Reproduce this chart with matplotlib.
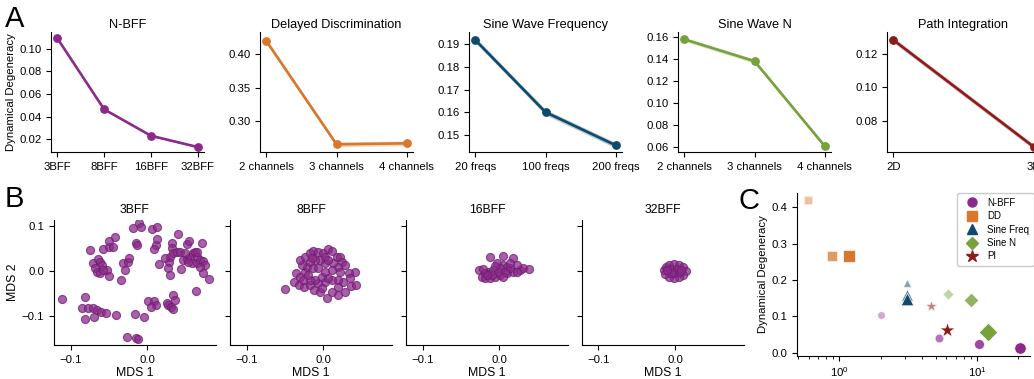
import matplotlib
matplotlib.use("Agg")
import matplotlib.pyplot as plt
from matplotlib.lines import Line2D
import numpy as np

plt.rcParams["font.family"] = ["Liberation Sans", "DejaVu Sans"]
plt.rcParams["axes.linewidth"] = 0.8
plt.rcParams["xtick.major.width"] = 0.8
plt.rcParams["ytick.major.width"] = 0.8
plt.rcParams["xtick.major.size"] = 3.5
plt.rcParams["ytick.major.size"] = 3.5
plt.rcParams["xtick.labelsize"] = 8.2
plt.rcParams["ytick.labelsize"] = 8.2

# colours per task
C_NBFF = "#8c2a8c"
C_DD = "#d8782a"
C_SWF = "#0e4a6e"
C_SWN = "#77a23b"
C_PI = "#8e1b1b"

# ---- panel A data ----
nbff_labels = ["3BFF", "8BFF", "16BFF", "32BFF"]
nbff_dd = [0.1095, 0.0464, 0.0229, 0.0129]
nbff_err = [0.0008, 0.0008, 0.0008, 0.0008]

dd_labels = ["2 channels", "3 channels", "4 channels"]
dd_dd = [0.4194, 0.2652, 0.2667]
dd_err = [0.0035, 0.0035, 0.0035]

swf_labels = ["20 freqs", "100 freqs", "200 freqs"]
swf_dd = [0.1919, 0.1601, 0.1455]
swf_err = [0.0012, 0.0012, 0.0012]

swn_labels = ["2 channels", "3 channels", "4 channels"]
swn_dd = [0.1582, 0.1383, 0.0609]
swn_err = [0.0018, 0.0018, 0.0018]

pi_labels = ["2D", "3D"]
pi_dd = [0.1283, 0.0643]
pi_err = [0.0015, 0.0015]

# ---- panel B data (MDS coordinates) ----
mds_3bff_x = [-0.1117, -0.0813, -0.0857, -0.0770, -0.0704, -0.0652, -0.0609, -0.0539, -0.0409, -0.0813,
              -0.0696, -0.0748, -0.0574, -0.0500, -0.0443, -0.0496, -0.0422, -0.0704, -0.0639, -0.0617,
              -0.0596, -0.0683, -0.0661, -0.0617, -0.0530, -0.0496, -0.0574, -0.0343, -0.0313, -0.0248,
              -0.0235, -0.0291, -0.0183, -0.0109, -0.0083, 0.0065, 0.0130, -0.0148, -0.0139, 0.0113,
              0.0091, 0.0130, 0.0157, 0.0317, 0.0317, 0.0296, 0.0287, 0.0274, 0.0296, 0.0230,
              0.0339, 0.0383, 0.0404, 0.0426, 0.0435, 0.0513, 0.0548, 0.0470, 0.0513, 0.0557,
              0.0578, 0.0600, 0.0622, 0.0643, 0.0652, 0.0643, 0.0687, 0.0709, 0.0730, 0.0752,
              0.0687, 0.0730, 0.0809, 0.0635, 0.0491, 0.0535, -0.0161, -0.0039, 0.0013, 0.0087,
              0.0109, 0.0048, 0.0252, 0.0274, 0.0304, 0.0339, 0.0361, 0.0339, -0.0270, -0.0148,
              -0.0117]
mds_3bff_y = [-0.0627, -0.0568, -0.0812, -0.0812, -0.0812, -0.0863, -0.0915, -0.0937, -0.0974, -0.1055,
              -0.1011, 0.0465, 0.0487, 0.0539, 0.0539, 0.0664, 0.0760, 0.0170, 0.0258, 0.0207,
              0.0133, 0.0059, -0.0015, -0.0052, 0.0022, -0.0111, 0.0022, -0.0199, 0.0170, 0.0207,
              0.0295, 0.0022, 0.0959, 0.1055, 0.0982, 0.0930, 0.0982, 0.0627, 0.0576, 0.0576,
              0.0480, 0.0701, 0.0148, 0.0613, 0.0502, 0.0317, 0.0207, 0.0059, -0.0089, 0.0295,
              0.0391, 0.0428, 0.0812, 0.0428, 0.0037, 0.0590, 0.0664, 0.0244, 0.0258, 0.0317,
              0.0170, 0.0391, 0.0428, 0.0317, 0.0170, 0.0428, 0.0244, 0.0613, 0.0229, 0.0133,
              0.0081, -0.0052, -0.0177, -0.0443, 0.0406, 0.0207, -0.0959, -0.1011, -0.0657, -0.0657,
              -0.0753, -0.0790, -0.0701, -0.0753, -0.0790, -0.0531, -0.0642, -0.0841, -0.1454, -0.1491,
              -0.1506]

mds_8bff_x = [-0.0500, -0.0378, -0.0317, -0.0248, -0.0174, -0.0117, -0.0043, 0.0043, 0.0109, 0.0187,
              0.0283, 0.0361, 0.0426, 0.0413, 0.0335, 0.0348, 0.0261, 0.0196, 0.0109, 0.0022,
              -0.0065, -0.0109, -0.0174, -0.0022, 0.0065, -0.0361, -0.0304, -0.0239, -0.0217, -0.0283,
              -0.0304, -0.0239, -0.0174, -0.0130, -0.0065, 0.0000, 0.0065, 0.0117, 0.0174, 0.0217,
              0.0239, 0.0283, 0.0196, 0.0130, 0.0022, -0.0043, -0.0109, -0.0174, -0.0130, -0.0065,
              0.0022, 0.0109, 0.0217, -0.0261, -0.0196, 0.0022, 0.0065, -0.0152, 0.0187, -0.0022]
mds_8bff_y = [-0.0399, -0.0236, -0.0310, -0.0362, -0.0310, -0.0421, -0.0472, -0.0605, -0.0458, -0.0531,
              -0.0458, -0.0332, -0.0310, -0.0015, -0.0037, -0.0162, -0.0236, -0.0199, -0.0199, -0.0236,
              -0.0273, -0.0199, -0.0199, -0.0125, -0.0162, -0.0037, -0.0125, -0.0015, 0.0096, 0.0133,
              0.0244, 0.0317, 0.0391, 0.0450, 0.0428, 0.0391, 0.0480, 0.0450, 0.0317, 0.0303,
              0.0207, 0.0133, 0.0096, 0.0170, 0.0170, 0.0244, 0.0244, 0.0207, 0.0059, 0.0059,
              -0.0015, 0.0022, -0.0015, -0.0199, -0.0089, 0.0317, 0.0244, 0.0280, -0.0347, -0.0384]

mds_16bff_x = [-0.0265, -0.0230, -0.0187, -0.0122, -0.0057, 0.0009, 0.0096, 0.0183, 0.0270, 0.0313,
               0.0387, 0.0235, 0.0183, 0.0043, -0.0122, -0.0035, 0.0052, 0.0096, -0.0143, -0.0078,
               0.0009, 0.0139, -0.0187, -0.0013, 0.0074, 0.0226, -0.0100, 0.0052, 0.0139, -0.0057,
               -0.0209, -0.0157]
mds_16bff_y = [0.0022, -0.0125, -0.0162, -0.0162, -0.0125, -0.0089, -0.0052, -0.0015, 0.0022, 0.0059,
               0.0044, 0.0133, 0.0280, 0.0332, 0.0303, 0.0170, 0.0133, 0.0081, -0.0015, 0.0022,
               0.0059, 0.0059, -0.0052, -0.0015, -0.0015, -0.0015, -0.0089, -0.0125, 0.0170, 0.0111,
               0.0037, -0.0089]

mds_32bff_x = [-0.0143, -0.0122, -0.0078, -0.0013, 0.0052, 0.0109, 0.0139, 0.0109, 0.0052, -0.0013,
               -0.0078, -0.0135, -0.0057, 0.0030, -0.0013, -0.0057, 0.0065, -0.0100, 0.0083]
mds_32bff_y = [0.0022, 0.0096, 0.0133, 0.0155, 0.0133, 0.0081, 0.0007, -0.0089, -0.0140, -0.0155,
               -0.0125, -0.0066, 0.0037, 0.0037, -0.0052, -0.0037, -0.0022, 0.0022, 0.0022]

# ---- panel C data ----
c_nbff_x = [2.01, 5.32, 10.4, 20.4]
c_nbff_y = [0.103, 0.042, 0.024, 0.012]
c_dd_x = [0.595, 0.889, 1.177]
c_dd_y = [0.420, 0.266, 0.267]
c_swf_x = [3.09, 3.09, 3.10]
c_swf_y = [0.191, 0.159, 0.147]
c_swn_x = [6.15, 9.09, 12.0]
c_swn_y = [0.1605, 0.145, 0.058]
c_pi_x = [4.65, 6.04]
c_pi_y = [0.1285, 0.064]

W, H = 1034, 379
fig = plt.figure(figsize=(W / 100, H / 100), dpi=100)


def px_axes(left, top, width, height):
    return fig.add_axes([left / W, 1 - (top + height) / H, width / W, height / H])


def despine(ax):
    ax.spines["top"].set_visible(False)
    ax.spines["right"].set_visible(False)


# ---- A: line plots ----
top_specs = [
    ("N-BFF", nbff_labels, nbff_dd, nbff_err, C_NBFF, (0.0082, 0.1148), [0.02, 0.04, 0.06, 0.08, 0.10]),
    ("Delayed Discrimination", dd_labels, dd_dd, dd_err, C_DD, (0.2533, 0.4324), [0.30, 0.35, 0.40]),
    ("Sine Wave Frequency", swf_labels, swf_dd, swf_err, C_SWF, (0.1424, 0.1953), [0.15, 0.16, 0.17, 0.18, 0.19]),
    ("Sine Wave N", swn_labels, swn_dd, swn_err, C_SWN, (0.0552, 0.1646), [0.06, 0.08, 0.10, 0.12, 0.14, 0.16]),
    ("Path Integration", pi_labels, pi_dd, pi_err, C_PI, (0.0610, 0.1329), [0.08, 0.10, 0.12]),
]
top_lefts = [51, 260, 469, 678, 887]
for left, (title, labels, vals, err, col, ylim, yt) in zip(top_lefts, top_specs):
    ax = px_axes(left, 32.3, 153, 120)
    x = np.arange(len(vals))
    lo = np.array(vals) - np.array(err)
    hi = np.array(vals) + np.array(err)
    ax.fill_between(x, lo, hi, color=col, alpha=0.3, lw=0)
    ax.plot(x, vals, "-o", color=col, lw=1.9, ms=5.3)
    ax.set_xticks(x)
    ax.set_xticklabels(labels)
    ax.set_yticks(yt)
    ax.set_ylim(*ylim)
    ax.margins(x=0.045)
    ax.set_title(title, fontsize=9.2, pad=3)
    despine(ax)
    if left == 51:
        ax.set_ylabel("Dynamical Degeneracy", fontsize=8.2, labelpad=2)

# ---- B: MDS scatter ----
mds_sets = [
    ("3BFF", mds_3bff_x, mds_3bff_y),
    ("8BFF", mds_8bff_x, mds_8bff_y),
    ("16BFF", mds_16bff_x, mds_16bff_y),
    ("32BFF", mds_32bff_x, mds_32bff_y),
]
mid_lefts = [54, 230, 406, 581.7]
for i, (left, (title, mx, my)) in enumerate(zip(mid_lefts, mds_sets)):
    ax = px_axes(left, 220, 162, 125)
    ax.scatter(mx, my, s=34, color=C_NBFF, alpha=0.75, edgecolor="#6e1f6e", linewidth=0.8)
    ax.set_xlim(-0.1218, 0.0897)
    ax.set_ylim(-0.164, 0.1126)
    ax.set_xticks([-0.1, 0.0])
    ax.set_yticks([-0.1, 0.0, 0.1])
    ax.set_title(title, fontsize=8.8, pad=5)
    ax.set_xlabel("MDS 1", fontsize=8.8, labelpad=2)
    if i == 0:
        ax.set_ylabel("MDS 2", fontsize=8.8, labelpad=2)
    else:
        ax.set_yticklabels([])
    despine(ax)

# ---- C: degeneracy vs dimensionality ----
axc = px_axes(797.3, 193.3, 233, 162.4)
c_sets = [
    (c_nbff_x, c_nbff_y, C_NBFF, "o", [28, 38, 50, 68], [0.4, 0.65, 0.85, 1.0]),
    (c_dd_x, c_dd_y, C_DD, "s", [26, 50, 78], [0.45, 0.75, 1.0]),
    (c_swf_x, c_swf_y, C_SWF, "^", [30, 68, 82], [0.5, 0.75, 1.0]),
    (c_swn_x, c_swn_y, C_SWN, "D", [30, 55, 90], [0.45, 0.8, 1.0]),
    (c_pi_x, c_pi_y, C_PI, "*", [70, 135], [0.55, 1.0]),
]
for cx, cy, col, mk, sizes, alphas in c_sets:
    for xv, yv, sv, av in zip(cx, cy, sizes, alphas):
        axc.scatter(xv, yv, s=sv, marker=mk, color=col, alpha=av, edgecolor="white", linewidth=0.5, zorder=3)
axc.set_xscale("log")
axc.set_xlim(0.494, 24.4)
axc.set_ylim(-0.008, 0.4385)
axc.set_yticks([0.0, 0.1, 0.2, 0.3, 0.4])
axc.set_ylabel("Dynamical Degeneracy", fontsize=8.2, labelpad=3)
despine(axc)

handles = [
    Line2D([], [], ls="", marker="o", color=C_NBFF, ms=6.5, label="N-BFF"),
    Line2D([], [], ls="", marker="s", color=C_DD, ms=6.5, label="DD"),
    Line2D([], [], ls="", marker="^", color=C_SWF, ms=6.5, label="Sine Freq"),
    Line2D([], [], ls="", marker="D", color=C_SWN, ms=6, label="Sine N"),
    Line2D([], [], ls="", marker="*", color=C_PI, ms=9, label="PI"),
]
fig.legend(handles=handles, loc="upper left", bbox_to_anchor=(957 / W, 1 - 193 / H),
           fontsize=7, frameon=True, borderaxespad=0, handletextpad=0.6,
           labelspacing=0.35, borderpad=0.5, framealpha=1, edgecolor="#cccccc")

# panel letters
fig.text(5 / W, 1 - 27 / H, "A", fontsize=21)
fig.text(5 / W, 1 - 207 / H, "B", fontsize=21)
fig.text(739 / W, 1 - 209 / H, "C", fontsize=21)

fig.savefig("out.png", dpi=100)
